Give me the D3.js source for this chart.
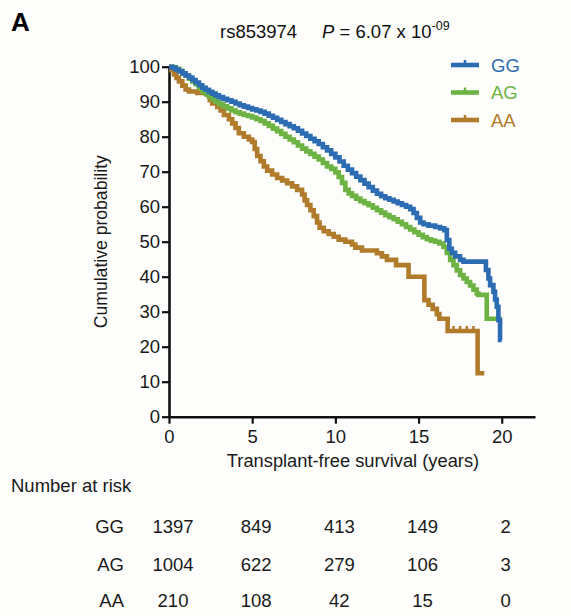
<!DOCTYPE html>
<html>
<head>
<meta charset="utf-8">
<script src="https://cdn.jsdelivr.net/npm/d3@7"></script>
<style>
    body { margin: 0; background: #fdfdfb; }
    svg { display: block; font-family: "Liberation Sans", Arial, sans-serif; }
</style>
</head>
<body>
<svg id="chart" width="571" height="616"></svg>
<script>
// Kaplan-Meier steps (years, % surviving)
var ggTime = [0, 0.2, 0.4, 0.6, 0.8, 1.0, 1.2, 1.4, 1.6, 1.8, 2.0, 2.2, 2.4, 2.6, 2.8, 3.0, 3.25, 3.5, 3.75, 4.0, 4.25, 4.5, 4.75, 5.0, 5.25, 5.5, 5.75, 6.0, 6.25, 6.5, 6.75, 7.0, 7.25, 7.5, 7.75, 8.0, 8.25, 8.5, 8.75, 9.0, 9.25, 9.5, 9.75, 10.0, 10.25, 10.5, 10.75, 11.0, 11.25, 11.5, 11.75, 12.0, 12.25, 12.5, 12.75, 13.0, 13.25, 13.5, 13.75, 14.0, 14.25, 14.5, 14.7, 14.9, 15.1, 15.3, 15.6, 16.0, 16.3, 16.55, 16.7, 16.85, 17.0, 17.2, 17.5, 17.7, 19.05, 19.2, 19.3, 19.5, 19.6, 19.7, 19.8, 19.9, 20.0];
var ggSurv = [100, 99.7, 99.2, 98.7, 98.1, 97.5, 96.9, 96.2, 95.5, 94.7, 94, 93.4, 92.8, 92.3, 91.8, 91.3, 90.8, 90.4, 90, 89.5, 89, 88.6, 88.2, 87.8, 87.5, 87.1, 86.6, 86, 85.4, 84.8, 84.2, 83.6, 83, 82.4, 81.7, 80.9, 80.2, 79.4, 78.7, 77.9, 77, 76.1, 75.1, 74.1, 72.9, 71.7, 70.6, 69.6, 68.6, 67.6, 66.6, 65.6, 64.6, 63.7, 63, 62.4, 62, 61.5, 61, 60.5, 60, 59.3, 58.2, 56.8, 55.5, 55, 54.6, 54.2, 53.8, 53.3, 50.5, 48, 46.8, 45.8, 44.8, 44.3, 41.9, 39.5, 37.6, 35.7, 33.5, 31.4, 27.6, 21.9, 21.9];

var agTime = [0, 0.2, 0.4, 0.6, 0.8, 1.0, 1.2, 1.4, 1.6, 1.8, 2.0, 2.2, 2.4, 2.6, 2.8, 3.0, 3.25, 3.5, 3.75, 4.0, 4.25, 4.5, 4.75, 5.0, 5.25, 5.5, 5.75, 6.0, 6.25, 6.5, 6.75, 7.0, 7.25, 7.5, 7.75, 8.0, 8.25, 8.5, 8.75, 9.0, 9.25, 9.5, 9.75, 10.0, 10.2, 10.4, 10.6, 10.8, 11.0, 11.25, 11.5, 11.75, 12.0, 12.25, 12.5, 12.75, 13.0, 13.25, 13.5, 13.75, 14.0, 14.25, 14.5, 14.75, 15.0, 15.25, 15.5, 15.75, 16.0, 16.25, 16.5, 16.7, 16.9, 17.1, 17.3, 17.5, 17.7, 17.9, 18.1, 18.3, 18.5, 18.6, 19.1, 20.0];
var agSurv = [100, 99.8, 99.4, 98.8, 98.1, 97.4, 96.6, 95.8, 95, 94, 93, 92.2, 91.4, 90.7, 90, 89.3, 88.7, 88.1, 87.5, 87, 86.6, 86.2, 85.9, 85.5, 85, 84.5, 83.8, 83.1, 82.3, 81.6, 80.8, 80, 79.2, 78.4, 77.5, 76.6, 75.8, 75.1, 74.3, 73.5, 72.5, 71.5, 70.8, 69.8, 68.5, 66.8, 64.8, 63.8, 63.1, 62.3, 61.6, 61, 60.4, 59.7, 59, 58.3, 57.6, 57, 56.4, 55.7, 55, 54.2, 53.5, 52.7, 52, 51.3, 50.7, 50.3, 50, 49.5, 48.5, 46.8, 44.8, 43.3, 41.8, 40.5, 39.5, 38.5, 37.5, 36.3, 35.2, 34.8, 28, 28];

var aaTime = [0, 0.15, 0.3, 0.45, 0.6, 0.8, 1.0, 1.2, 1.7, 2.3, 2.45, 2.6, 2.9, 3.1, 3.3, 3.6, 3.8, 4.0, 4.2, 4.5, 4.8, 5.0, 5.15, 5.3, 5.5, 5.7, 5.9, 6.2, 6.5, 6.8, 7.1, 7.4, 7.7, 8.0, 8.15, 8.3, 8.5, 8.7, 8.9, 9.05, 9.3, 9.6, 9.9, 10.2, 10.6, 11.0, 11.2, 11.6, 12.5, 12.8, 13.1, 13.65, 14.4, 15.35, 15.6, 15.85, 16.1, 16.25, 16.75, 18.55, 18.95];
var aaSurv = [100, 99, 97.8, 96.8, 95.8, 94.6, 93.5, 92.9, 92.5, 92, 90.5, 89.5, 88.5, 87.5, 86.2, 85, 83.8, 82.5, 81, 80, 79.2, 78.5, 76.5, 74.5, 73, 71.5, 70.3, 69.2, 68.2, 67.5, 66.7, 65.8, 64.8, 63.5, 61.8, 60.5, 59, 57.3, 55.5, 54, 53, 52.2, 51.4, 50.6, 50, 49.2, 48.3, 47.5, 46.7, 45.8, 44.8, 43.3, 40, 33.3, 32, 30.8, 29.3, 28, 24.5, 12.4, 12.4];

var aaCensorTime = [17.1, 17.5, 17.9, 18.3];
var aaCensorSurv = [24.5, 24.5, 24.5, 24.5];

var groups = ["GG", "AG", "AA"];
var groupColors = ["#2c6cb2", "#6cb343", "#b07b2a"];
var xTicks = [0, 5, 10, 15, 20];
var yTicks = [0, 10, 20, 30, 40, 50, 60, 70, 80, 90, 100];
var riskGG = [1397, 849, 413, 149, 2];
var riskAG = [1004, 622, 279, 106, 3];
var riskAA = [210, 108, 42, 15, 0];

var svg = d3.select("#chart");
var x = d3.scaleLinear().domain([0, 22]).range([169, 535]);
var y = d3.scaleLinear().domain([0, 100]).range([416.7, 66.7]);

function zip(times, survs) {
    return times.map(function(t, i) { return [t, survs[i]]; });
}

// panel letter + title
svg.append("text")
    .attr("x", 11)
    .attr("y", 31)
    .attr("font-size", 26)
    .attr("font-weight", "bold")
    .text("A");

var title = svg.append("text")
    .attr("y", 38)
    .attr("font-size", 18.5)
    .attr("fill", "#111");
title.append("tspan").attr("x", 220).text("rs853974");
title.append("tspan").attr("x", 322).attr("font-style", "italic").text("P");
title.append("tspan").text(" = 6.07 x 10");
title.append("tspan").attr("dy", -8).attr("font-size", 12.5).text("-09");

// axes
var xAxis = d3.axisBottom(x).tickValues(xTicks).tickSize(7).tickSizeOuter(0).tickPadding(6);
var yAxis = d3.axisLeft(y).tickValues(yTicks).tickSize(7).tickSizeOuter(0).tickPadding(2);

var gx = svg.append("g").attr("transform", "translate(0," + y(0) + ")").call(xAxis);
var gy = svg.append("g").attr("transform", "translate(" + x(0) + ",0)").call(yAxis);

[gx, gy].forEach(function(g) {
    g.select(".domain").attr("stroke", "#111").attr("stroke-width", 2.6);
    g.selectAll(".tick line").attr("stroke", "#111").attr("stroke-width", 2.2);
    g.selectAll(".tick text").attr("font-size", 18.5).attr("fill", "#1a1a1a")
        .attr("font-family", "Liberation Sans, Arial, sans-serif");
});

svg.append("text")
    .attr("x", 353)
    .attr("y", 467)
    .attr("text-anchor", "middle")
    .attr("font-size", 18.3)
    .attr("fill", "#1a1a1a")
    .text("Transplant-free survival (years)");

svg.append("text")
    .attr("transform", "translate(107," + y(50) + ") rotate(-90)")
    .attr("text-anchor", "middle")
    .attr("font-size", 17.6)
    .attr("fill", "#1a1a1a")
    .text("Cumulative probability");

// curves
var line = d3.line()
    .curve(d3.curveStepAfter)
    .x(function(d) { return x(d[0]); })
    .y(function(d) { return y(d[1]); });

var curves = [zip(ggTime, ggSurv), zip(agTime, agSurv), zip(aaTime, aaSurv)];
[2, 1, 0].forEach(function(i) {
    svg.append("path")
        .datum(curves[i])
        .attr("d", line)
        .attr("fill", "none")
        .attr("stroke", groupColors[i])
        .attr("stroke-width", 4.6)
        .attr("stroke-linejoin", "miter");
});

svg.selectAll(".censor")
    .data(zip(aaCensorTime, aaCensorSurv))
    .enter().append("line")
    .attr("x1", function(d) { return x(d[0]); })
    .attr("x2", function(d) { return x(d[0]); })
    .attr("y1", function(d) { return y(d[1]) - 5; })
    .attr("y2", function(d) { return y(d[1]); })
    .attr("stroke", groupColors[2])
    .attr("stroke-width", 2.5);

// legend
var legend = svg.selectAll(".legend")
    .data(groups)
    .enter().append("g")
    .attr("transform", function(d, i) { return "translate(451," + (65 + i * 27.5) + ")"; });

legend.append("line")
    .attr("x1", 0).attr("x2", 28)
    .attr("stroke", function(d, i) { return groupColors[i]; })
    .attr("stroke-width", 4.6);
legend.append("line")
    .attr("x1", 14).attr("x2", 14).attr("y1", -5).attr("y2", 0)
    .attr("stroke", function(d, i) { return groupColors[i]; })
    .attr("stroke-width", 2.5);
legend.append("text")
    .attr("x", 40)
    .attr("y", 6.7)
    .attr("font-size", 18.5)
    .attr("fill", function(d, i) { return groupColors[i]; })
    .text(function(d) { return d; });

// number at risk table
svg.append("text")
    .attr("x", 11)
    .attr("y", 492)
    .attr("font-size", 18.5)
    .attr("fill", "#1a1a1a")
    .text("Number at risk");

var riskRows = [riskGG, riskAG, riskAA];
var rowY = [533, 570.5, 607];
riskRows.forEach(function(row, r) {
    svg.append("text")
        .attr("x", 124)
        .attr("y", rowY[r])
        .attr("text-anchor", "end")
        .attr("font-size", 18.5)
        .attr("fill", "#1a1a1a")
        .text(groups[r]);
    row.forEach(function(v, c) {
        svg.append("text")
            .attr("x", x(xTicks[c]) + 4)
            .attr("y", rowY[r])
            .attr("text-anchor", "middle")
            .attr("font-size", 18.5)
            .attr("fill", "#1a1a1a")
            .text(v);
    });
});
</script>
</body>
</html>
